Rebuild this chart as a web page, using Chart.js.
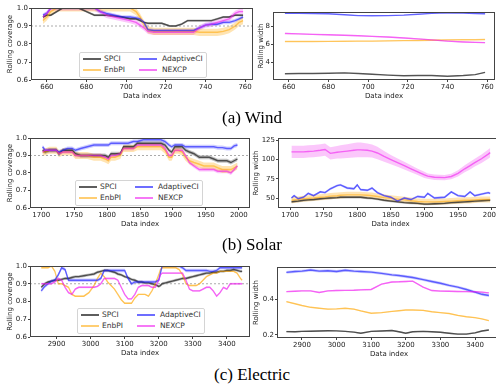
<!DOCTYPE html>
<html>
<head>
<meta charset="utf-8">
<script src="https://cdn.jsdelivr.net/npm/chart.js@4.4.1/dist/chart.umd.min.js"></script>
<style>
  body { margin: 0; width: 496px; height: 386px; overflow: hidden; background: #fff; position: relative; font-family: "DejaVu Sans", sans-serif; }
  canvas { position: absolute; }
  .cap { position: absolute; left: 0; width: 504px; text-align: center; font: 17px "Liberation Serif", serif; color: #000; line-height: 17px; }
  .leg { position: absolute; background: #fff; border: 1px solid #d4d4d4; border-radius: 2px; width: 126px; height: 24px; font-size: 7.5px; color: #333; }
  .leg span { position: absolute; }
</style>
</head>
<body>
<script>
const methods = ["SPCI", "EnbPI", "AdaptiveCI", "NEXCP"];
const target = 0.9;

// (a) Wind
const windCovX = [658, 660, 662, 665, 668, 672, 676, 680, 684, 687, 690, 694, 698, 702, 705, 707, 709, 711, 714, 718, 722, 725, 728, 731, 734, 737, 740, 743, 746, 749, 752, 755, 757, 759];
const windCovSPCI = [0.95, 0.96, 0.96, 0.98, 1, 1, 1, 0.98, 0.96, 0.96, 0.96, 0.955, 0.95, 0.94, 0.94, 0.93, 0.92, 0.915, 0.915, 0.915, 0.9, 0.9, 0.91, 0.93, 0.93, 0.93, 0.93, 0.93, 0.94, 0.95, 0.95, 0.96, 0.96, 0.96];
const windCovEnbPI = [0.93, 0.95, 0.98, 1, 1, 1, 1, 1, 1, 1, 1, 1, 1, 1, 0.98, 0.95, 0.91, 0.88, 0.87, 0.87, 0.87, 0.87, 0.87, 0.87, 0.87, 0.865, 0.865, 0.865, 0.865, 0.87, 0.88, 0.9, 0.92, 0.93];
const windCovAdaptiveCI = [0.96, 0.97, 1, 1, 1, 1, 1, 1, 1, 0.98, 0.97, 0.96, 0.95, 0.95, 0.945, 0.94, 0.92, 0.88, 0.875, 0.875, 0.875, 0.875, 0.875, 0.875, 0.875, 0.89, 0.905, 0.91, 0.91, 0.92, 0.92, 0.93, 0.94, 0.95];
const windCovNEXCP = [0.95, 0.97, 1, 1, 1, 1, 1, 1, 1, 0.98, 0.96, 0.95, 0.94, 0.93, 0.92, 0.905, 0.89, 0.87, 0.865, 0.865, 0.865, 0.865, 0.865, 0.865, 0.865, 0.89, 0.905, 0.91, 0.92, 0.93, 0.94, 0.97, 0.98, 0.98];
const windCovSpread = [0.006, 0.02, 0.01, 0.015];

const windWidX = [658, 665, 672, 680, 688, 695, 702, 710, 718, 725, 732, 740, 748, 754, 759];
const windWidSPCI = [2.7, 2.72, 2.73, 2.75, 2.8, 2.72, 2.65, 2.55, 2.48, 2.5, 2.5, 2.42, 2.5, 2.6, 2.85];
const windWidEnbPI = [6.3, 6.3, 6.3, 6.32, 6.33, 6.35, 6.35, 6.37, 6.4, 6.42, 6.45, 6.48, 6.5, 6.5, 6.52];
const windWidAdaptiveCI = [9.45, 9.45, 9.42, 9.4, 9.3, 9.2, 9.18, 9.2, 9.25, 9.35, 9.45, 9.52, 9.48, 9.42, 9.4];
const windWidNEXCP = [7.2, 7.15, 7.1, 7.05, 7.0, 6.95, 6.88, 6.8, 6.7, 6.6, 6.48, 6.35, 6.25, 6.2, 6.18];
const windWidSpread = [0.04, 0.04, 0.04, 0.07];

// (b) Solar
const solarCovX = [1702, 1706, 1712, 1718, 1723, 1727, 1733, 1740, 1747, 1752, 1760, 1770, 1780, 1790, 1797, 1802, 1806, 1812, 1820, 1825, 1832, 1840, 1846, 1855, 1865, 1875, 1882, 1888, 1894, 1898, 1903, 1908, 1914, 1919, 1925, 1932, 1940, 1947, 1955, 1962, 1968, 1975, 1982, 1988, 1993, 1998];
const solarCovSPCI = [0.93, 0.92, 0.93, 0.93, 0.93, 0.91, 0.93, 0.93, 0.93, 0.91, 0.9, 0.9, 0.9, 0.9, 0.9, 0.89, 0.91, 0.91, 0.91, 0.95, 0.95, 0.95, 0.97, 0.97, 0.97, 0.97, 0.97, 0.96, 0.93, 0.92, 0.95, 0.95, 0.95, 0.93, 0.92, 0.91, 0.89, 0.89, 0.89, 0.88, 0.87, 0.87, 0.87, 0.86, 0.87, 0.88];
const solarCovEnbPI = [0.92, 0.92, 0.93, 0.93, 0.93, 0.91, 0.92, 0.92, 0.92, 0.9, 0.9, 0.9, 0.89, 0.89, 0.88, 0.87, 0.89, 0.89, 0.9, 0.94, 0.94, 0.94, 0.95, 0.95, 0.95, 0.95, 0.95, 0.93, 0.89, 0.89, 0.93, 0.93, 0.92, 0.89, 0.87, 0.86, 0.85, 0.84, 0.84, 0.84, 0.83, 0.82, 0.82, 0.82, 0.83, 0.84];
const solarCovAdaptiveCI = [0.95, 0.93, 0.93, 0.93, 0.93, 0.92, 0.93, 0.94, 0.94, 0.93, 0.94, 0.95, 0.96, 0.96, 0.96, 0.96, 0.97, 0.97, 0.97, 0.97, 0.97, 0.98, 0.98, 0.99, 0.99, 0.99, 0.99, 0.98, 0.96, 0.95, 0.96, 0.96, 0.96, 0.95, 0.95, 0.95, 0.95, 0.95, 0.95, 0.95, 0.945, 0.945, 0.94, 0.94, 0.955, 0.96];
const solarCovNEXCP = [0.92, 0.93, 0.93, 0.93, 0.93, 0.91, 0.92, 0.92, 0.92, 0.9, 0.9, 0.9, 0.9, 0.9, 0.89, 0.88, 0.9, 0.9, 0.91, 0.94, 0.94, 0.94, 0.96, 0.96, 0.96, 0.96, 0.96, 0.94, 0.9, 0.9, 0.93, 0.93, 0.93, 0.9, 0.86, 0.84, 0.82, 0.82, 0.82, 0.82, 0.81, 0.81, 0.81, 0.8, 0.82, 0.84];
const solarCovSpread = [0.012, 0.02, 0.012, 0.012];

const solarWidX = [1702, 1706, 1712, 1720, 1727, 1735, 1745, 1752, 1760, 1770, 1775, 1785, 1795, 1800, 1805, 1815, 1822, 1830, 1840, 1850, 1860, 1870, 1880, 1890, 1900, 1905, 1915, 1930, 1940, 1950, 1960, 1968, 1975, 1985, 1995, 1998];
const solarWidSPCI = [45, 45.5, 46, 47, 47.5, 48, 49, 49.5, 50, 50.5, 51, 51, 51, 51, 51, 50, 49.5, 48.5, 47, 46, 45, 44, 43.5, 43, 42, 42, 42.5, 43, 44, 44.5, 45, 45.5, 46, 46.5, 47, 47];
const solarWidEnbPI = [47, 47.5, 48, 49, 49.5, 50, 51, 51.5, 52.5, 53, 53.5, 54, 54, 54, 54, 53.5, 53, 52, 50.5, 49.5, 48.5, 47.5, 46.5, 45.5, 45, 45, 45, 45.5, 46, 46.5, 47, 47, 47.5, 48, 48, 48];
const solarWidAdaptiveCI = [50, 53, 49, 51, 56, 53, 58, 57, 62, 66, 67, 63, 62, 67, 61, 60, 63, 57, 53, 51, 46, 50, 48, 52, 51, 56, 50, 51, 58, 53, 52, 58, 53, 55, 57, 56];
const solarWidNEXCP = [110, 110, 110, 110, 110.5, 111, 112, 113, 108, 109.5, 110, 111, 112, 112.5, 112.5, 112, 111, 108.5, 104, 100, 96, 92, 88, 84, 80, 78.5, 77, 76.5, 78, 82, 88, 92, 96, 101, 107, 109];
const solarWidNEXCPSpread = [8, 8, 8, 8, 8, 8, 8, 8, 8, 8, 8.5, 9, 9.5, 9.5, 9.5, 9, 8.5, 8, 7, 6, 5.5, 5, 4.5, 4, 4, 3.5, 3.5, 3.5, 3.5, 4, 4.5, 5, 5, 5.5, 6, 6];
const solarWidSpread = [1.5, 4, 1.5, solarWidNEXCPSpread];

// (c) Electric
const elecCovX = [2855, 2865, 2875, 2885, 2895, 2905, 2915, 2925, 2935, 2945, 2955, 2965, 2980, 2995, 3010, 3020, 3030, 3040, 3050, 3060, 3070, 3080, 3090, 3100, 3110, 3120, 3130, 3140, 3150, 3160, 3170, 3180, 3190, 3200, 3205, 3210, 3220, 3230, 3240, 3250, 3260, 3270, 3280, 3290, 3300, 3310, 3320, 3330, 3340, 3350, 3360, 3370, 3380, 3390, 3400, 3410, 3420, 3430, 3440, 3445];
const elecCovSPCI = [0.88, 0.9, 0.91, 0.915, 0.92, 0.92, 0.925, 0.93, 0.93, 0.935, 0.94, 0.94, 0.945, 0.95, 0.955, 0.965, 0.97, 0.975, 0.975, 0.97, 0.965, 0.955, 0.95, 0.94, 0.935, 0.925, 0.92, 0.91, 0.91, 0.905, 0.905, 0.9, 0.895, 0.885, 0.89, 0.9, 0.905, 0.91, 0.915, 0.92, 0.925, 0.93, 0.93, 0.935, 0.94, 0.945, 0.95, 0.955, 0.96, 0.96, 0.965, 0.965, 0.97, 0.97, 0.975, 0.975, 0.98, 0.975, 0.97, 0.97];
const elecCovEnbPI = [0.99, 0.99, 0.99, 1, 0.97, 0.9, 0.9, 0.89, 0.88, 0.84, 0.83, 0.83, 0.83, 0.85, 0.89, 0.93, 0.96, 0.94, 0.91, 0.89, 0.87, 0.84, 0.81, 0.79, 0.79, 0.79, 0.82, 0.84, 0.84, 0.84, 0.83, 0.86, 0.9, 0.95, 0.98, 0.99, 0.99, 0.99, 0.99, 0.99, 0.98, 0.95, 0.9, 0.89, 0.89, 0.89, 0.9, 0.92, 0.94, 0.95, 0.96, 0.96, 0.97, 0.97, 0.97, 0.97, 0.97, 0.96, 0.93, 0.92];
const elecCovAdaptiveCI = [0.86, 0.885, 0.9, 0.915, 0.92, 0.95, 0.99, 0.98, 0.92, 0.92, 0.92, 0.92, 0.92, 0.92, 0.92, 0.92, 0.93, 0.975, 0.975, 0.975, 0.975, 0.975, 0.975, 0.975, 0.93, 0.9, 0.91, 0.91, 0.91, 0.91, 0.91, 0.91, 0.91, 0.92, 0.96, 1, 1, 1, 1, 1, 1, 0.99, 0.975, 0.975, 0.975, 0.975, 0.975, 0.975, 0.975, 0.97, 0.97, 0.975, 0.99, 0.99, 0.99, 0.99, 0.99, 0.99, 0.99, 0.99];
const elecCovNEXCP = [0.9, 0.9, 0.9, 0.9, 0.91, 0.93, 0.92, 0.88, 0.85, 0.84, 0.87, 0.88, 0.88, 0.88, 0.88, 0.885, 0.9, 0.93, 0.93, 0.93, 0.93, 0.92, 0.88, 0.84, 0.815, 0.815, 0.84, 0.88, 0.89, 0.89, 0.89, 0.88, 0.88, 0.92, 0.95, 0.96, 0.96, 0.96, 0.96, 0.96, 0.96, 0.96, 0.92, 0.87, 0.86, 0.86, 0.86, 0.87, 0.88, 0.88, 0.86, 0.83, 0.85, 0.88, 0.87, 0.9, 0.9, 0.9, 0.9, 0.9];
const elecCovSpread = [0.008, 0.004, 0.01, 0.005];

const elecWidX = [2855, 2880, 2900, 2925, 2950, 2975, 3000, 3025, 3050, 3070, 3100, 3130, 3160, 3180, 3200, 3220, 3250, 3275, 3300, 3325, 3350, 3375, 3400, 3420, 3440];
const elecWidSPCI = [0.219, 0.218, 0.22, 0.221, 0.222, 0.224, 0.223, 0.22, 0.216, 0.21, 0.22, 0.222, 0.225, 0.218, 0.21, 0.218, 0.22, 0.218, 0.215, 0.21, 0.205, 0.205, 0.212, 0.222, 0.228];
const elecWidEnbPI = [0.387, 0.375, 0.365, 0.355, 0.35, 0.345, 0.346, 0.35, 0.345, 0.335, 0.322, 0.325, 0.332, 0.336, 0.34, 0.34, 0.338, 0.33, 0.325, 0.32, 0.31, 0.302, 0.297, 0.29, 0.28];
const elecWidAdaptiveCI = [0.551, 0.556, 0.558, 0.564, 0.558, 0.56, 0.556, 0.563, 0.558, 0.556, 0.552, 0.545, 0.537, 0.533, 0.528, 0.522, 0.51, 0.5, 0.49, 0.478, 0.468, 0.455, 0.44, 0.428, 0.421];
const elecWidNEXCP = [0.443, 0.445, 0.447, 0.447, 0.438, 0.447, 0.449, 0.45, 0.451, 0.453, 0.455, 0.485, 0.497, 0.498, 0.5, 0.502, 0.468, 0.449, 0.446, 0.445, 0.444, 0.443, 0.442, 0.44, 0.436];
const elecWidSpread = [0.004, 0.003, 0.008, 0.004];

const lineColors = ["rgba(40,40,40,0.75)", "rgba(255,165,0,0.55)", "rgba(30,30,255,0.65)", "rgba(240,30,240,0.6)"];
const bandColors = ["rgba(40,40,40,0.28)", "rgba(255,165,0,0.3)", "rgba(30,30,255,0.22)", "rgba(240,30,240,0.25)"];
const tickFont = { family: "DejaVu Sans", size: 7 };
const textColor = "#222";

const boxPlugin = {
  id: "box",
  afterDraw(chart) {
    const a = chart.chartArea, ctx = chart.ctx;
    ctx.save();
    ctx.strokeStyle = "#444";
    ctx.lineWidth = 1;
    ctx.strokeRect(a.left + 0.5, a.top + 0.5, a.right - a.left - 1, a.bottom - a.top - 1);
    ctx.restore();
  }
};

function panel(o) {
  const padTop = 6, xH = 20;
  const cv = document.createElement("canvas");
  cv.width = o.yW + o.w;
  cv.height = padTop + o.h + xH;
  cv.style.left = (o.left - o.yW) + "px";
  cv.style.top = (o.top - padTop) + "px";
  document.body.appendChild(cv);

  const ds = [];
  o.ys.forEach((y, i) => {
    const s = o.spread[i];
    const sp = j => Array.isArray(s) ? s[j] : s;
    ds.push({ data: o.x.map((v, j) => ({ x: v, y: y[j] - sp(j) })), borderColor: "rgba(0,0,0,0)", pointRadius: 0, fill: false, order: 20 });
    ds.push({ data: o.x.map((v, j) => ({ x: v, y: y[j] + sp(j) })), borderColor: "rgba(0,0,0,0)", backgroundColor: bandColors[i], pointRadius: 0, fill: "-1", order: 20 });
  });
  o.ys.forEach((y, i) => {
    ds.push({ label: methods[i], data: o.x.map((v, j) => ({ x: v, y: y[j] })), borderColor: lineColors[i], borderWidth: 1.4, pointRadius: 0, fill: false, order: 3 - i });
  });
  if (o.target) {
    ds.push({ data: [{ x: o.xMin, y: target }, { x: o.xMax, y: target }], borderColor: "#aaa", borderWidth: 1, borderDash: [2, 2], pointRadius: 0, fill: false, order: 15 });
  }

  new Chart(cv, {
    type: "line",
    data: { datasets: ds },
    options: {
      responsive: false,
      animation: false,
      layout: { padding: { top: padTop, left: 0, right: 0, bottom: 0 } },
      plugins: { legend: { display: false }, tooltip: { enabled: false }, filler: { drawTime: "beforeDatasetsDraw" } },
      scales: {
        x: {
          type: "linear", min: o.xMin, max: o.xMax,
          afterBuildTicks: s => { s.ticks = o.xTicks.map(v => ({ value: v })); },
          afterFit: s => { s.height = xH; s.paddingLeft = 0; s.paddingRight = 0; },
          ticks: { font: tickFont, color: textColor, padding: 1, autoSkip: false, maxRotation: 0, callback: v => String(v) },
          grid: { drawOnChartArea: false, tickLength: 2, color: "#444" },
          border: { display: false },
          title: { display: true, text: "Data index", font: tickFont, color: textColor, padding: 0 }
        },
        y: {
          type: "linear", min: o.yMin, max: o.yMax,
          afterBuildTicks: s => { s.ticks = o.yTicks.map(v => ({ value: v })); },
          afterFit: s => { s.width = o.yW; s.paddingTop = 0; s.paddingBottom = 0; },
          ticks: { font: tickFont, color: textColor, padding: 1, autoSkip: false, callback: o.yFmt },
          grid: { drawOnChartArea: false, tickLength: 2, color: "#444" },
          border: { display: false },
          title: { display: true, text: o.yTitle, font: tickFont, color: textColor, padding: { top: o.titleX - (o.left - o.yW) - 4.2, bottom: 0 } }
        }
      }
    },
    plugins: [boxPlugin]
  });
}

function legend(left, top) {
  const d = document.createElement("div");
  d.className = "leg";
  d.style.left = left + "px";
  d.style.top = top + "px";
  const cells = [[0, 0], [0, 1], [1, 0], [1, 1]];
  methods.forEach((m, i) => {
    const [col, row] = cells[i];
    const h = document.createElement("span");
    h.style.cssText = `left:${3 + col * 56}px;top:${5 + row * 11}px;width:18px;height:1.5px;background:${lineColors[i]}`;
    const t = document.createElement("span");
    t.textContent = m;
    t.style.cssText = `left:${24 + col * 58}px;top:${1 + row * 11}px;line-height:10px`;
    d.appendChild(h);
    d.appendChild(t);
  });
  document.body.appendChild(d);
}

function caption(text, top) {
  const d = document.createElement("div");
  d.className = "cap";
  d.style.top = top + "px";
  d.textContent = text;
  document.body.appendChild(d);
}

const f1 = v => v.toFixed(1);
const f0 = v => String(v);
const covTicks = [0.6, 0.7, 0.8, 0.9, 1.0];

panel({ left: 31, top: 8, w: 222, h: 72, yW: 31, titleX: 10, x: windCovX, ys: [windCovSPCI, windCovEnbPI, windCovAdaptiveCI, windCovNEXCP], spread: windCovSpread,
  xMin: 652, xMax: 764, xTicks: [660, 680, 700, 720, 740, 760], yMin: 0.6, yMax: 1.0, yTicks: covTicks, yFmt: f1, yTitle: "Rolling coverage", target: true });
panel({ left: 273, top: 12, w: 222, h: 68, yW: 22, titleX: 261, x: windWidX, ys: [windWidSPCI, windWidEnbPI, windWidAdaptiveCI, windWidNEXCP], spread: windWidSpread,
  xMin: 652, xMax: 764, xTicks: [660, 680, 700, 720, 740, 760], yMin: 2.0, yMax: 9.6, yTicks: [4, 6, 8], yFmt: f0, yTitle: "Rolling width" });

panel({ left: 30, top: 138, w: 220, h: 70, yW: 30, titleX: 10, x: solarCovX, ys: [solarCovSPCI, solarCovEnbPI, solarCovAdaptiveCI, solarCovNEXCP], spread: solarCovSpread,
  xMin: 1683, xMax: 2017, xTicks: [1700, 1750, 1800, 1850, 1900, 1950, 2000], yMin: 0.6, yMax: 1.0, yTicks: covTicks, yFmt: f1, yTitle: "Rolling coverage", target: true });
panel({ left: 278, top: 138, w: 225, h: 70, yW: 28, titleX: 256, x: solarWidX, ys: [solarWidSPCI, solarWidEnbPI, solarWidAdaptiveCI, solarWidNEXCP], spread: solarWidSpread,
  xMin: 1682, xMax: 2017, xTicks: [1700, 1750, 1800, 1850, 1900, 1950, 2000], yMin: 37, yMax: 128, yTicks: [50, 75, 100, 125], yFmt: f0, yTitle: "Rolling width" });

panel({ left: 30, top: 266, w: 220, h: 71, yW: 30, titleX: 10, x: elecCovX, ys: [elecCovSPCI, elecCovEnbPI, elecCovAdaptiveCI, elecCovNEXCP], spread: elecCovSpread,
  xMin: 2822, xMax: 3468, xTicks: [2900, 3000, 3100, 3200, 3300, 3400], yMin: 0.6, yMax: 1.0, yTicks: covTicks, yFmt: f1, yTitle: "Rolling coverage", target: true });
panel({ left: 277, top: 267, w: 224, h: 71, yW: 27, titleX: 256, x: elecWidX, ys: [elecWidSPCI, elecWidEnbPI, elecWidAdaptiveCI, elecWidNEXCP], spread: elecWidSpread,
  xMin: 2828, xMax: 3475, xTicks: [2900, 3000, 3100, 3200, 3300, 3400], yMin: 0.183, yMax: 0.581, yTicks: [0.2, 0.4], yFmt: f1, yTitle: "Rolling width" });

legend(79, 52);
legend(75, 180);
legend(77, 308);

caption("(a) Wind", 109);
caption("(b) Solar", 236);
caption("(c) Electric", 366);
</script>
</body>
</html>
